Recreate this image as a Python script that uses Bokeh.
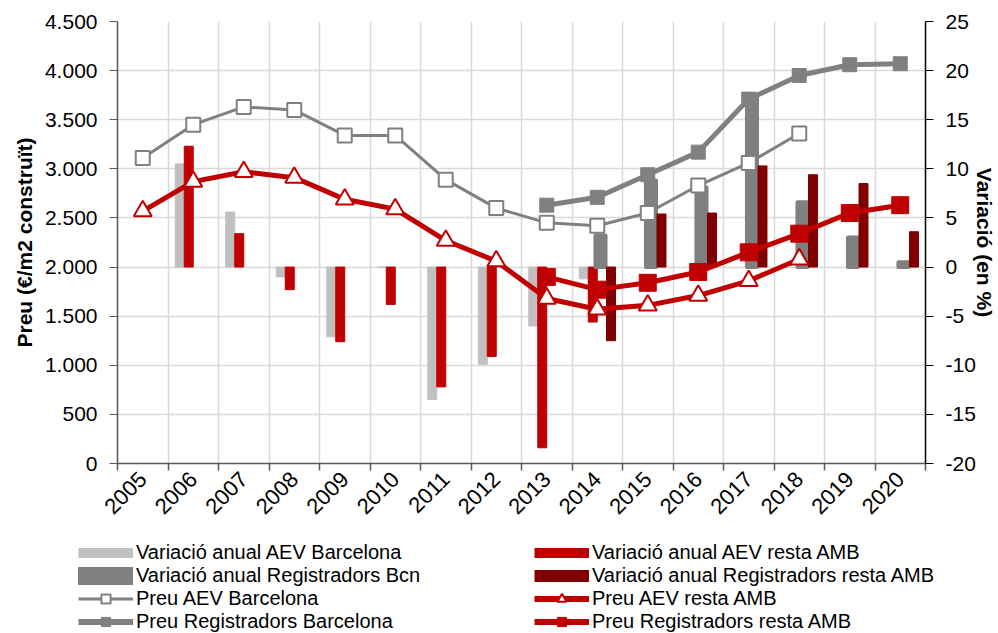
import math
from bokeh.plotting import figure
from bokeh.models import Range1d, LinearAxis, FixedTicker, Legend, LegendItem, ColumnDataSource
from bokeh.embed import file_html
from bokeh.resources import INLINE

# ---------------- data ----------------
years = list(range(2005, 2021))
year_labels = [str(y) for y in years]

price_ticks = [0, 500, 1000, 1500, 2000, 2500, 3000, 3500, 4000, 4500]
price_tick_labels = ["0", "500", "1.000", "1.500", "2.000", "2.500", "3.000", "3.500", "4.000", "4.500"]
pct_ticks = [-20, -15, -10, -5, 0, 5, 10, 15, 20, 25]
pct_tick_labels = ["-20", "-15", "-10", "-5", "0", "5", "10", "15", "20", "25"]

years_aev = list(range(2005, 2019))
preu_aev_bcn = [3110, 3450, 3630, 3600, 3340, 3340, 2890, 2600, 2450, 2420, 2550, 2830, 3060, 3360]
preu_aev_resta = [2570, 2870, 2970, 2910, 2690, 2590, 2270, 2060, 1680, 1570, 1610, 1710, 1860, 2080]

years_reg = list(range(2013, 2021))
preu_reg_bcn = [2630, 2710, 2940, 3170, 3710, 3950, 4060, 4070]
preu_reg_resta = [1900, 1770, 1840, 1950, 2150, 2340, 2550, 2630]

years_var_aev = list(range(2006, 2015))
var_aev_bcn = [10.5, 5.6, -1.0, -7.1, 0.0, -13.5, -9.9, -6.0, -1.2]
var_aev_resta = [12.3, 3.4, -2.3, -7.6, -3.8, -12.2, -9.1, -18.4, -5.6]

years_var_reg = list(range(2014, 2021))
var_reg_bcn = [3.2, 8.8, 8.1, 17.6, 6.6, 3.0, 0.5]
var_reg_resta = [-7.5, 5.4, 5.5, 10.3, 9.4, 8.5, 3.6]

legend_labels_left = ["Variació anual AEV Barcelona", "Variació anual Registradors Bcn",
                      "Preu AEV Barcelona", "Preu Registradors Barcelona"]
legend_labels_right = ["Variació anual AEV resta AMB", "Variació anual Registradors resta AMB",
                       "Preu AEV resta AMB", "Preu Registradors resta AMB"]

# ---------------- styles ----------------
LGRAY = "#C0C0C0"
RED = "#C00000"
DGRAY = "#808080"
DRED = "#800000"
FONT = "Liberation Sans"

p = figure(width=998, height=530, output_backend="svg", toolbar_location=None,
           x_range=Range1d(2004.5, 2020.5), y_range=Range1d(0, 4500),
           min_border_left=117, min_border_right=73, min_border_top=21, min_border_bottom=67)
p.extra_y_ranges = {"pct": Range1d(-20, 25)}
p.outline_line_color = None
p.background_fill_color = "white"

# grids
p.xgrid.ticker = FixedTicker(ticks=[y - 0.5 for y in years] + [years[-1] + 0.5])
p.xgrid.grid_line_color = "#D9D9D9"
p.xgrid.grid_line_width = 1.5
p.ygrid.grid_line_color = "#D9D9D9"
p.ygrid.grid_line_width = 1.5

# x axis
xa = p.xaxis[0]
xa.ticker = FixedTicker(ticks=years, minor_ticks=[y - 0.5 for y in years] + [years[-1] + 0.5])
xa.major_label_overrides = {y: l for y, l in zip(years, year_labels)}
xa.major_label_orientation = math.pi / 4
xa.major_tick_out = 0
xa.major_tick_in = 0
xa.minor_tick_out = 7
xa.minor_tick_in = 0
xa.minor_tick_line_color = "#595959"
xa.minor_tick_line_width = 1.5
xa.axis_line_color = "#595959"
xa.axis_line_width = 1.5
xa.major_label_text_font = FONT
xa.major_label_text_font_size = "22px"
xa.major_label_text_color = "black"
xa.major_label_standoff = 5

# left axis
ya = p.yaxis[0]
ya.ticker = FixedTicker(ticks=price_ticks)
ya.major_label_overrides = {t: l for t, l in zip(price_ticks, price_tick_labels)}
ya.minor_tick_line_color = None
ya.major_tick_out = 8
ya.major_tick_in = 0
ya.major_tick_line_color = "#595959"
ya.axis_line_color = "#595959"
ya.axis_line_width = 1.5
ya.major_label_text_font = FONT
ya.major_label_text_font_size = "21px"
ya.major_label_text_color = "black"
ya.major_label_standoff = 12
ya.axis_label = "Preu (€/m2 construït)"
ya.axis_label_text_font = FONT
ya.axis_label_text_font_size = "21px"
ya.axis_label_text_font_style = "bold"
ya.axis_label_text_color = "black"
ya.axis_label_standoff = 6

# right axis
ra = LinearAxis(y_range_name="pct", ticker=FixedTicker(ticks=pct_ticks))
ra.major_label_overrides = {t: l for t, l in zip(pct_ticks, pct_tick_labels)}
ra.minor_tick_line_color = None
ra.major_tick_out = 8
ra.major_tick_in = 0
ra.major_tick_line_color = "black"
ra.axis_line_color = "black"
ra.axis_line_width = 1.5
ra.major_label_text_font = FONT
ra.major_label_text_font_size = "21px"
ra.major_label_text_color = "black"
ra.major_label_standoff = 12
ra.axis_label = "Variació (en %)"
ra.axis_label_text_font = FONT
ra.axis_label_text_font_size = "21px"
ra.axis_label_text_font_style = "bold"
ra.axis_label_text_color = "black"
ra.axis_label_standoff = -6
p.add_layout(ra, "right")

# ---------------- bars ----------------
p.vbar(x=[y - 0.267 for y in years_var_aev], top=var_aev_bcn, bottom=0, width=0.178,
       color=LGRAY, y_range_name="pct")
p.vbar(x=[y - 0.089 for y in years_var_aev], top=var_aev_resta, bottom=0, width=0.178,
       color=RED, y_range_name="pct")
p.vbar(x=[y + 0.064 for y in years_var_reg], top=var_reg_bcn, bottom=0, width=0.2,
       fill_color=DGRAY, line_color=DGRAY, line_width=4, line_join="round", y_range_name="pct")
p.vbar(x=[y + 0.272 for y in years_var_reg], top=var_reg_resta, bottom=0, width=0.178,
       color=DRED, y_range_name="pct")

# ---------------- lines ----------------
p.line(years_aev, preu_aev_bcn, line_color=DGRAY, line_width=3)
p.scatter(years_aev, preu_aev_bcn, marker="square", size=14, fill_color="white",
          line_color=DGRAY, line_width=2)
p.line(years_reg, preu_reg_bcn, line_color=DGRAY, line_width=5)
p.scatter(years_reg, preu_reg_bcn, marker="square", size=14, fill_color=DGRAY,
          line_color=DGRAY, line_width=1)
p.line(years_aev, preu_aev_resta, line_color=RED, line_width=5)
p.scatter(years_aev, preu_aev_resta, marker="triangle", size=18, fill_color="white",
          line_color=RED, line_width=2)
p.line(years_reg, preu_reg_resta, line_color=RED, line_width=5)
p.scatter(years_reg, preu_reg_resta, marker="square", size=17, fill_color=RED,
          line_color=RED, line_width=1)

# ---------------- legend panel (separate root, same page) ----------------
lf = figure(width=998, height=103, output_backend="svg", toolbar_location=None,
            x_range=Range1d(0, 1), y_range=Range1d(0, 1),
            x_axis_type=None, y_axis_type=None,
            min_border_left=0, min_border_right=0, min_border_top=0, min_border_bottom=0)
lf.outline_line_color = None
lf.grid.visible = False

NAN = float("nan")

def src():
    return ColumnDataSource(dict(x=[NAN], y=[NAN]))

g1 = lf.line("x", "y", source=src(), line_color=LGRAY, line_width=10)
g2 = lf.line("x", "y", source=src(), line_color=DGRAY, line_width=18, line_cap="round")
g3l = lf.line("x", "y", source=src(), line_color=DGRAY, line_width=3)
g3m = lf.scatter("x", "y", source=src(), marker="square", size=12, fill_color="white",
                 line_color=DGRAY, line_width=2)
g4l = lf.line("x", "y", source=src(), line_color=DGRAY, line_width=6)
g4m = lf.scatter("x", "y", source=src(), marker="square", size=12, fill_color=DGRAY,
                 line_color=DGRAY, line_width=1)
h1 = lf.line("x", "y", source=src(), line_color=RED, line_width=10)
h2 = lf.line("x", "y", source=src(), line_color=DRED, line_width=12)
h3l = lf.line("x", "y", source=src(), line_color=RED, line_width=6)
h3m = lf.scatter("x", "y", source=src(), marker="triangle", size=14, fill_color="white",
                 line_color=RED, line_width=2)
h4l = lf.line("x", "y", source=src(), line_color=RED, line_width=6)
h4m = lf.scatter("x", "y", source=src(), marker="square", size=14, fill_color=RED,
                 line_color=RED, line_width=1)

def make_legend(labels, rends, loc):
    lg = Legend(items=[LegendItem(label=l, renderers=r) for l, r in zip(labels, rends)],
                location=loc, orientation="vertical",
                glyph_width=55, glyph_height=23, label_height=23, spacing=0,
                label_standoff=3, padding=0, margin=0,
                label_text_font=FONT, label_text_font_size="20px", label_text_color="black",
                border_line_color=None, background_fill_alpha=0)
    lf.add_layout(lg, "center")

make_legend(legend_labels_left, [[g1], [g2], [g3l, g3m], [g4l, g4m]], (78, 0))
make_legend(legend_labels_right, [[h1], [h2], [h3l, h3m], [h4l, h4m]], (534, 0))

open("out.html", "w").write(file_html([p, lf], INLINE))
